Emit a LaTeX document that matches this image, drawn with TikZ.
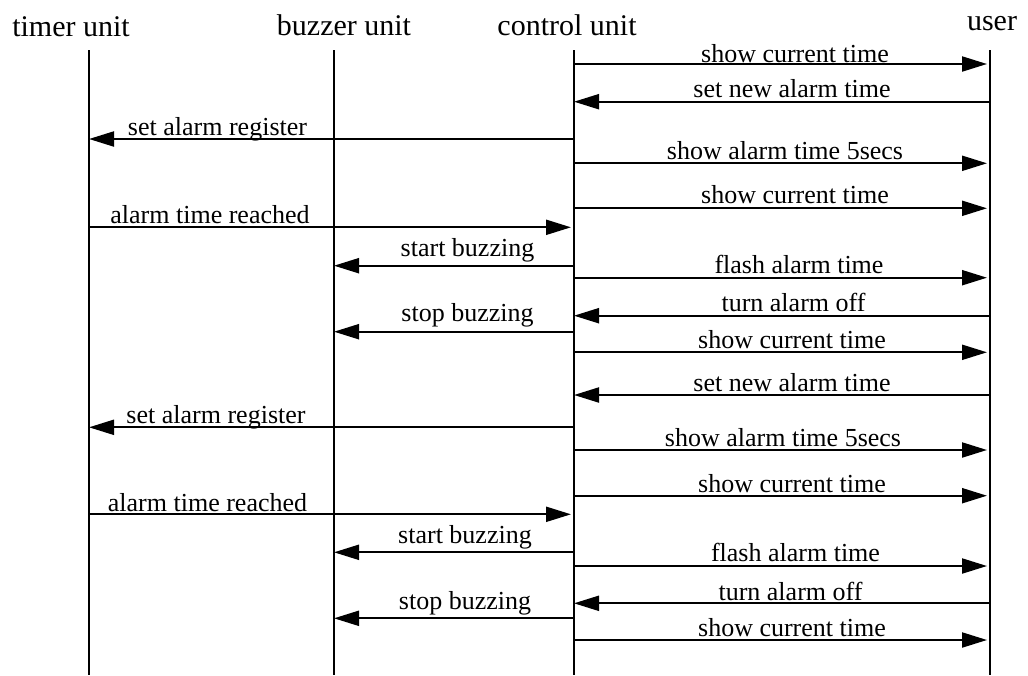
\documentclass[tikz,border=0pt]{standalone}
\usepackage{fontspec}
\setmainfont{Liberation Serif}
\usetikzlibrary{arrows.meta}

% one message: from lifeline #1 to lifeline #2 at height #3,
% label centred at x=#4 with baseline #5, text #6, name prefix #7
\newcommand{\seqmsg}[8][]{%
  \coordinate (#8s) at (#2 |- 0,#4);
  \coordinate (#8e) at (#3 |- 0,#4);
  \draw[msg,#1] (#8s) -- (#8e);
  \node[lbl] (#8l) at (#5,#6) {#7};
}

\begin{document}
\begin{tikzpicture}[
  x=1pt, y=-1pt,
  head/.style={anchor=base, inner sep=0pt, font=\fontsize{30}{36}\selectfont},
  lbl/.style={anchor=base, inner sep=0pt, font=\fontsize{26}{30}\selectfont},
  life/.style={line width=2.7pt},
  msg/.style={line width=2.1pt, -{Triangle[length=25pt, width=15pt]}, shorten >=3pt},
  touch/.style={shorten >=0pt},
]
\fill[white] (0,0) rectangle (1028,675);
\useasboundingbox (0,0) rectangle (1028,675);

% participants
\node[head] (timer) at (71,36) {timer unit};
\node[head] (buzzer) at (344,35) {buzzer unit};
\node[head] (control) at (567,35) {control unit};
\node[head] (user) at (992,30) {user};

% lifelines
\coordinate (T) at (89,50);   \coordinate (Tb) at (89,675);
\coordinate (B) at (334,50);  \coordinate (Bb) at (334,675);
\coordinate (C) at (574,50);  \coordinate (Cb) at (574,675);
\coordinate (U) at (990,50);  \coordinate (Ub) at (990,675);
\draw[life] (T) -- (Tb);
\draw[life] (B) -- (Bb);
\draw[life] (C) -- (Cb);
\draw[life] (U) -- (Ub);

% first alarm cycle
\seqmsg{C}{U}{64}{795}{62}{show current time}{m1}
\seqmsg[touch]{U}{C}{101.7}{792}{97}{set new alarm time}{m2}
\seqmsg[touch]{C}{T}{139}{217.5}{135.5}{set alarm register}{m3}
\seqmsg{C}{U}{163.3}{785}{159}{show alarm time 5secs}{m4}
\seqmsg{C}{U}{208.3}{795}{203.5}{show current time}{m5}
\seqmsg{T}{C}{227.3}{210}{223}{alarm time reached}{m6}
\seqmsg[touch]{C}{B}{265.7}{467.5}{256.7}{start buzzing}{m7}
\seqmsg{C}{U}{277.7}{799}{273.3}{flash alarm time}{m8}
\seqmsg[touch]{U}{C}{315.7}{793.5}{311.7}{turn alarm off}{m9}
\seqmsg[touch]{C}{B}{331.7}{467.5}{321.7}{stop buzzing}{m10}
\seqmsg{C}{U}{352.3}{792}{348.3}{show current time}{m11}

% second alarm cycle
\seqmsg[touch]{U}{C}{395}{792}{391.7}{set new alarm time}{m12}
\seqmsg[touch]{C}{T}{427.3}{216}{423.3}{set alarm register}{m13}
\seqmsg{C}{U}{450}{783}{446.7}{show alarm time 5secs}{m14}
\seqmsg{C}{U}{495.7}{792}{492.3}{show current time}{m15}
\seqmsg{T}{C}{514.3}{207.5}{511.7}{alarm time reached}{m16}
\seqmsg[touch]{C}{B}{552.3}{465}{543.3}{start buzzing}{m17}
\seqmsg{C}{U}{566}{795.5}{561.7}{flash alarm time}{m18}
\seqmsg[touch]{U}{C}{603.3}{790.5}{600}{turn alarm off}{m19}
\seqmsg[touch]{C}{B}{618.3}{465}{609.3}{stop buzzing}{m20}
\seqmsg{C}{U}{640}{792}{636.7}{show current time}{m21}
\end{tikzpicture}
\end{document}
